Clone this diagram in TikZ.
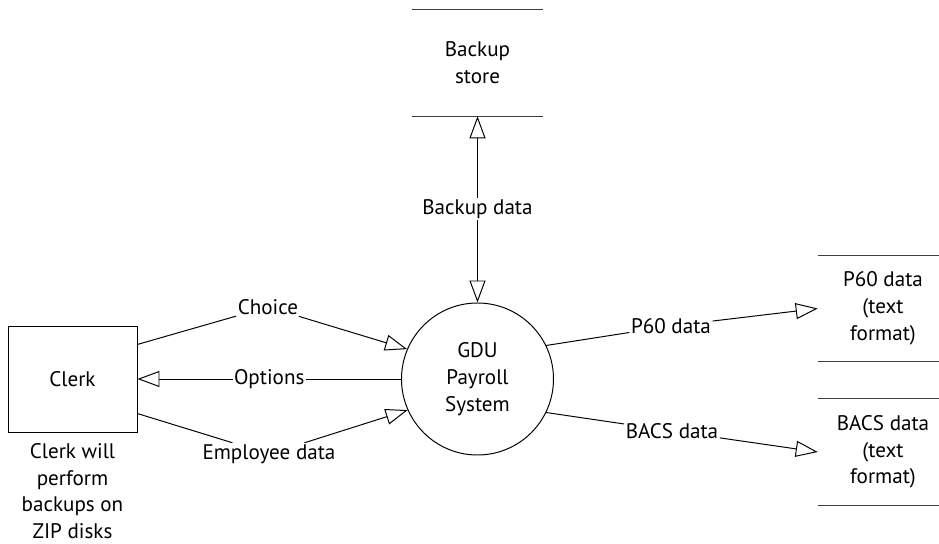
\documentclass[tikz,border=0pt]{standalone}
\usepackage{fontspec}
\setmainfont{PT Sans}
\usetikzlibrary{arrows.meta, positioning}
\tikzset{>={Triangle[open, length=5.5mm, width=4mm]},
every node/.style={font=\fontsize{15}{19}\selectfont, align=center},
process/.style={draw, circle, minimum size=3.8cm, inner sep=0pt, line width=0.7pt},
entity/.style={draw, minimum width=3.225cm, minimum height=2.65cm, line width=0.7pt},
store/.style={minimum width=3.25cm, minimum height=2.65cm},
storeline/.style={line width=1pt, black!75},
flow/.style={line width=0.7pt},
flowlabel/.style={inner sep=1pt},
}

\begin{document}
\begin{tikzpicture}
\useasboundingbox (-11.9375,-4.125) rectangle (11.5375,9.475);
    \node[process] (gdu) {GDU\\Payroll\\System};
    \node[entity, xshift=-10.125cm] (clerk) {Clerk};
    \node[xshift=-10.125cm, yshift=-2.8cm] (note) {Clerk will\\perform\\backups on\\ZIP disks};
    \node[store, yshift=7.9cm] (backup) {Backup\\store};
    \node[store, xshift=10.1375cm, yshift=1.7625cm] (p60) {P60 data\\(text\\format)};
    \node[store, xshift=10.1375cm, yshift=-1.825cm] (bacs) {BACS data\\(text\\format)};
    % labels sitting on the bent flows
    \node[flowlabel, xshift=-5.2375cm, yshift=1.8cm] (lchoice) {Choice};
    \node[flowlabel, xshift=-5.2125cm, yshift=-1.875cm] (lemp) {Employee data};
    \node[flowlabel, xshift=4.8375cm, yshift=1.325cm] (lp60) {P60 data};
    \node[flowlabel, xshift=4.8625cm, yshift=-1.3cm] (lbacs) {BACS data};
    \foreach \s in {backup, p60, bacs}
        \draw[storeline] (\s.north west) -- (\s.north east) (\s.south west) -- (\s.south east);
    \draw[flow, ->] (clerk.28) -- (lchoice) -- (gdu.157);
    \draw[flow, ->] (clerk.-28) -- (lemp) -- (gdu.204);
    \draw[flow, ->] (gdu.26) -- (lp60) -- (p60.west);
    \draw[flow, ->] (gdu.-26) -- (lbacs) -- (bacs.west);
    \draw[flow, ->] (gdu.west) -- node[fill=white, flowlabel]{Options} (clerk.east);
    \draw[flow, <->] (gdu.north) -- node[fill=white, flowlabel]{Backup data} (backup.south);
\end{tikzpicture}
\end{document}
